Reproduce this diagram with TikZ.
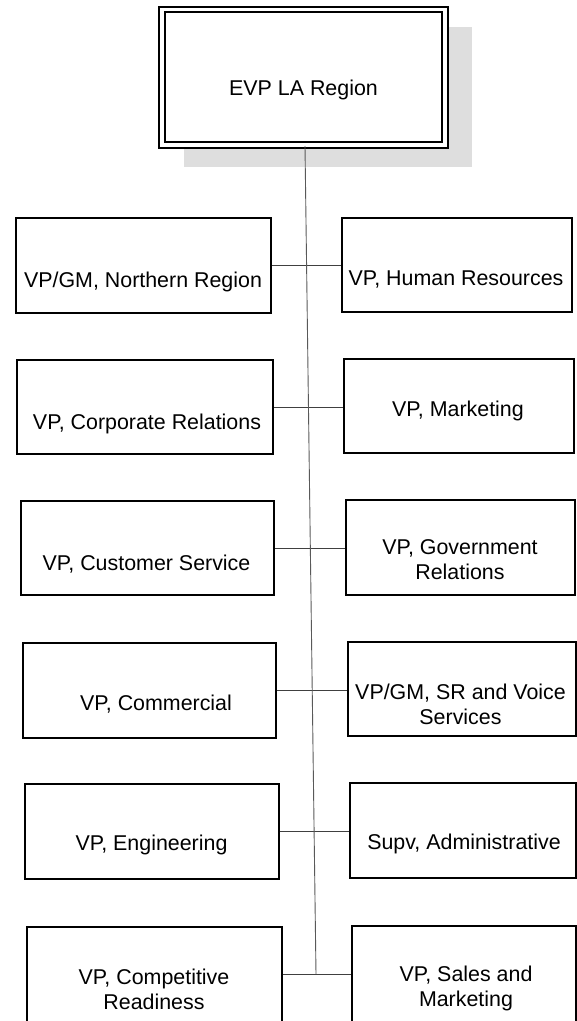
\documentclass[tikz,border=0pt]{standalone}
\usepackage{fontspec}
\setmainfont{Liberation Sans}
\begin{document}
\begin{tikzpicture}[x=1pt,y=-1pt,
  font=\fontsize{21.4}{25}\selectfont,
  boxst/.style={draw=black, line width=1.6pt, fill=white, inner sep=0pt, anchor=center},
  txt/.style={inner sep=0pt, anchor=base, align=center, text=black},
  conn/.style={draw=black!75, line width=0.9pt},
  vline/.style={draw=black!65, line width=0.9pt}]
\useasboundingbox (0,0) rectangle (577,1021);
\begin{scope}
\clip (0,0) rectangle (577,1021);
% shadow of the top box
\fill[black!13] (184,27) rectangle (472,167);
% top box
\node[draw=black, line width=2pt, double=white, double distance=3.5pt, fill=white,
      minimum width=283pt, minimum height=135.5pt, inner sep=0pt] (top) at (303.5,77.25) {};
\node[txt] (ttop) at (303.5,95.5) {EVP LA Region};

% left column boxes
\node[boxst, minimum width=255pt, minimum height=95pt] (L1) at (143.5,265.5) {};
\node[boxst, minimum width=256pt, minimum height=94pt] (L2) at (145,407) {};
\node[boxst, minimum width=253pt, minimum height=94pt] (L3) at (147.5,548) {};
\node[boxst, minimum width=253pt, minimum height=95pt] (L4) at (149.5,690.5) {};
\node[boxst, minimum width=254pt, minimum height=95pt] (L5) at (152,831.5) {};
\node[boxst, minimum width=255pt, minimum height=98pt] (L6) at (154.5,976) {};
% right column boxes
\node[boxst, minimum width=230pt, minimum height=94pt] (R1) at (457,265) {};
\node[boxst, minimum width=230pt, minimum height=94pt] (R2) at (459,406) {};
\node[boxst, minimum width=229pt, minimum height=95pt] (R3) at (460.5,547.5) {};
\node[boxst, minimum width=228pt, minimum height=94pt] (R4) at (462,689) {};
\node[boxst, minimum width=226pt, minimum height=95pt] (R5) at (463,830.5) {};
\node[boxst, minimum width=224pt, minimum height=98pt] (R6) at (464,975) {};

% texts (base anchor = baseline of the last line)
\node[txt] (tL1) at (143,287) {VP/GM, Northern Region};
\node[txt] (tR1) at (456,285) {VP, Human Resources};
\node[txt] (tL2) at (147,429) {VP, Corporate Relations};
\node[txt] (tR2) at (458,416) {VP, Marketing};
\node[txt] (tL3) at (146.5,570) {VP, Customer Service};
\node[txt] (tR3) at (460,579) {VP, Government\\Relations};
\node[txt] (tL4) at (156,710) {VP, Commercial};
\node[txt] (tR4) at (460.5,724) {VP/GM, SR and Voice\\Services};
\node[txt] (tL5) at (151.5,850) {VP, Engineering};
\node[txt] (tR5) at (464,849) {Supv, Administrative};
\node[txt] (tL6) at (154,1009) {VP, Competitive\\Readiness};
\node[txt] (tR6) at (466,1006) {VP, Sales and\\Marketing};

% connectors
\coordinate (y6) at (0,974);
\foreach \i in {1,...,5}{
  \draw[conn] (L\i.east) -- (L\i.east -| R\i.west);
}
\draw[conn] (L6.east |- y6) -- (R6.west |- y6);
\coordinate (vbot) at (316,974);
\draw[vline] ([xshift=1.5pt]top.south) -- (vbot);
\end{scope}
\end{tikzpicture}
\end{document}
